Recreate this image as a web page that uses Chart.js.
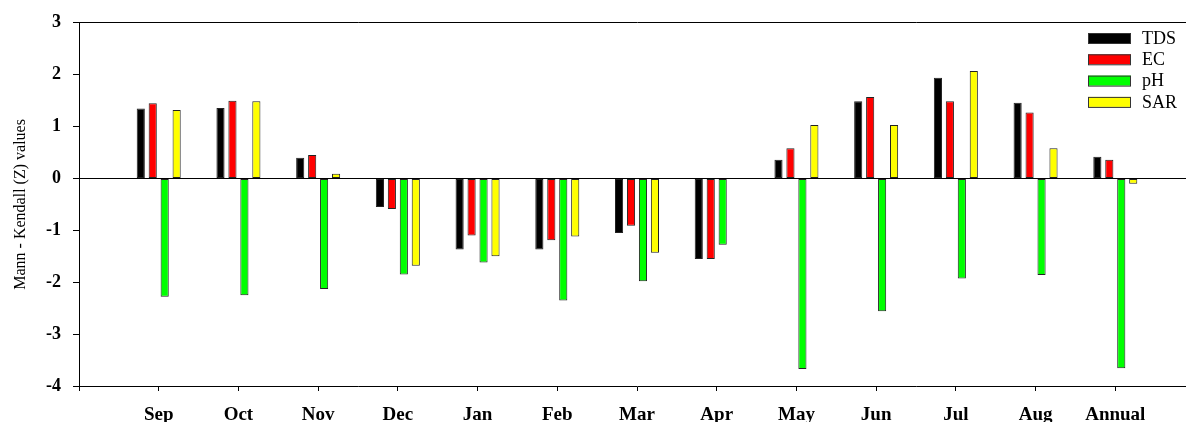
<!DOCTYPE html>
<html>
<head>
<meta charset="utf-8">
<script src="https://cdn.jsdelivr.net/npm/chart.js@4/dist/chart.umd.min.js"></script>
<style>
  html, body { margin: 0; padding: 0; background: #fff; overflow: hidden; }
  canvas { display: block; }
</style>
</head>
<body>
<canvas id="mkChart" width="1208" height="422"></canvas>
<script>
const categories = ['Sep', 'Oct', 'Nov', 'Dec', 'Jan', 'Feb', 'Mar', 'Apr', 'May', 'Jun', 'Jul', 'Aug', 'Annual'];
const tds = [1.35, 1.36, 0.40, -0.55, -1.37, -1.37, -1.05, -1.55, 0.36, 1.49, 1.94, 1.46, 0.42];
const ec  = [1.45, 1.50, 0.45, -0.59, -1.10, -1.19, -0.91, -1.55, 0.58, 1.57, 1.49, 1.27, 0.36];
const ph  = [-2.28, -2.25, -2.13, -1.85, -1.62, -2.35, -1.98, -1.28, -3.67, -2.56, -1.93, -1.86, -3.66];
const sar = [1.32, 1.49, 0.09, -1.68, -1.50, -1.12, -1.43, null, 1.03, 1.03, 2.07, 0.58, -0.10];
const yTicks = [3, 2, 1, 0, -1, -2, -3, -4];

// empty slot on each side so the first/last month sit one full step from the edges
function pad(arr) { return [null].concat(arr, [null]); }
const labels = [''].concat(categories, ['']);

function bars(label, data, color) {
  return { label: label, data: pad(data), backgroundColor: color, borderColor: '#222', borderWidth: 1,
    borderSkipped: false, categoryPercentage: 0.6, barPercentage: 0.68 };
}

// zero line on top of the bars, like the original
const zeroLine = {
  id: 'zeroLine',
  afterDatasetsDraw(chart) {
    const ctx = chart.ctx, area = chart.chartArea;
    const y = Math.round(chart.scales.y.getPixelForValue(0)) + 0.5;
    ctx.save();
    ctx.strokeStyle = '#000';
    ctx.lineWidth = 1;
    ctx.beginPath();
    ctx.moveTo(area.left, y);
    ctx.lineTo(area.right, y);
    ctx.stroke();
    ctx.restore();
  }
};

// simple legend at the top right of the plot
const boxLegend = {
  id: 'boxLegend',
  afterDraw(chart) {
    const ctx = chart.ctx;
    ctx.save();
    ctx.font = '18px "Liberation Serif"';
    ctx.textBaseline = 'middle';
    chart.data.datasets.forEach((ds, i) => {
      const y = 33 + i * 21.3;
      ctx.fillStyle = ds.backgroundColor;
      ctx.fillRect(1088, y, 43, 10);
      ctx.strokeStyle = '#333';
      ctx.lineWidth = 1;
      ctx.strokeRect(1088.5, y + 0.5, 42, 10);
      ctx.fillStyle = '#000';
      ctx.fillText(ds.label, 1142, y + 6);
    });
    ctx.restore();
  }
};

new Chart(document.getElementById('mkChart').getContext('2d'), {
  type: 'bar',
  data: { labels: labels, datasets: [
    bars('TDS', tds, '#000000'),
    bars('EC', ec, '#ff0000'),
    bars('pH', ph, '#00ff00'),
    bars('SAR', sar, '#ffff00')
  ]},
  options: {
    responsive: false, animation: false,
    layout: { padding: { top: 22, right: 1, left: 0, bottom: 0 } },
    plugins: { legend: { display: false }, tooltip: { enabled: false } },
    scales: {
      x: {
        offset: false,
        grid: { offset: false, drawOnChartArea: false, drawTicks: true, tickLength: 5, tickColor: '#000', color: '#000' },
        border: { color: '#000', width: 1 },
        ticks: { color: '#000', padding: 13, maxRotation: 0, autoSkip: false, font: { family: 'Liberation Serif', size: 19, weight: 'bold' } },
        afterFit(scale) { scale.height = 36; }
      },
      y: {
        min: -4, max: 3,
        afterBuildTicks(scale) { scale.ticks = yTicks.map(v => ({ value: v })); },
        grid: {
          color: (c) => (c.tick && c.tick.value === 3) ? '#000' : 'rgba(0,0,0,0)',
          tickColor: '#000', tickLength: 6, lineWidth: 1
        },
        border: { color: '#000', width: 1 },
        ticks: { color: '#000', padding: 12, font: { family: 'Liberation Serif', size: 18, weight: 'bold' } },
        title: { display: true, text: 'Mann - Kendall (Z) values', color: '#000', padding: { top: 11, bottom: 0 },
          font: { family: 'Liberation Serif', size: 16 } },
        afterFit(scale) { scale.width = 79; }
      }
    }
  },
  plugins: [zeroLine, boxLegend]
});
</script>
</body>
</html>
